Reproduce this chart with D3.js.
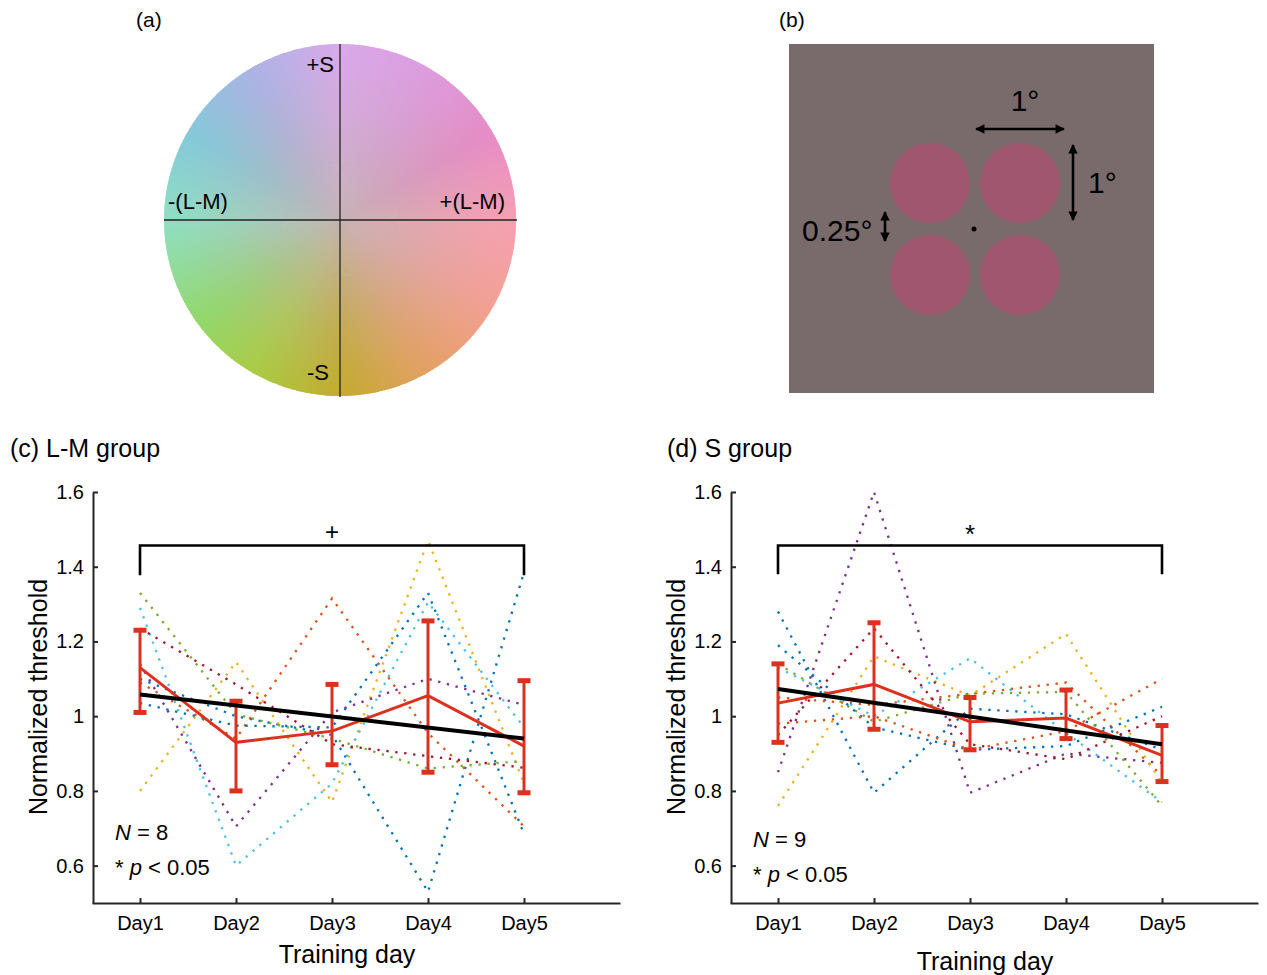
<!DOCTYPE html>
<html>
<head>
<meta charset="utf-8">
<script src="https://cdn.jsdelivr.net/npm/d3@7"></script>
<style>
  body { margin: 0; background: #fff; }
  svg { display: block; }
  text { font-family: "Liberation Sans", Arial, sans-serif; fill: #000; }
</style>
</head>
<body>
<svg id="fig" width="1267" height="975"></svg>
<script>
// ---------- data ----------
const days = ["Day1", "Day2", "Day3", "Day4", "Day5"];
const dayIndex = [1, 2, 3, 4, 5];
const yTicks = [0.6, 0.8, 1, 1.2, 1.4, 1.6];
const subjectColors = ["#0072BD", "#D95319", "#EDB120", "#7E2F8E", "#77AC30", "#4DBEEE", "#A2142F"];

// (c) L-M group: normalized thresholds per participant
const lmSubjects = [
  [1.10, 1.00, 0.95, 0.53, 1.385],
  [1.09, 0.94, 1.315, 0.955, 0.705],
  [0.80, 1.145, 0.77, 1.47, 0.82],
  [1.14, 0.705, 1.01, 1.10, 1.03],
  [1.33, 1.005, 0.94, 0.86, 0.88],
  [1.29, 0.60, 0.82, 1.305, 0.97],
  [1.235, 1.085, 0.925, 0.893, 0.862],
  [1.035, 0.975, 0.97, 1.33, 0.685]
];
const lmMean  = [1.13, 0.93, 0.96, 1.055, 0.92];
const lmUpper = [1.23, 1.04, 1.085, 1.255, 1.095];
const lmLower = [1.01, 0.80, 0.87, 0.85, 0.795];

// (d) S group: normalized thresholds per participant
const sSubjects = [
  [1.28, 0.795, 1.02, 1.005, 0.91],
  [1.05, 1.03, 1.06, 1.09, 0.84],
  [0.76, 1.16, 1.055, 1.22, 0.82],
  [0.85, 1.60, 0.795, 0.90, 0.875],
  [1.14, 0.985, 1.06, 1.065, 0.76],
  [1.13, 1.00, 1.155, 0.955, 0.77],
  [0.95, 1.235, 0.925, 0.885, 1.00],
  [1.19, 0.97, 0.91, 0.92, 1.025],
  [0.98, 1.00, 0.91, 0.96, 1.10]
];
const sMean  = [1.035, 1.085, 0.985, 0.995, 0.895];
const sUpper = [1.14, 1.25, 1.05, 1.07, 0.975];
const sLower = [0.93, 0.965, 0.91, 0.94, 0.825];

// hue around the colour circle (degrees clockwise from +S)
const wheelHues = [
  [0, "#d9a9ea"], [30, "#dd9cdf"], [60, "#e68cc6"], [90, "#f6a0b2"],
  [120, "#f3a093"], [150, "#e4a064"], [180, "#c3ab2e"], [210, "#a9cc46"],
  [235, "#92d96c"], [270, "#8fdfc4"], [300, "#84c9da"], [330, "#acb3e5"],
  [360, "#d9a9ea"]
];

const svg = d3.select("#fig");
const defs = svg.append("defs");
svg.append("rect").attr("width", 1267).attr("height", 975).attr("fill", "#fff");

// ---------- (a) colour space ----------
svg.append("text").attr("x", 136).attr("y", 27).attr("font-size", 21).text("(a)");
{
  const R = 176;
  const g = svg.append("g").attr("transform", "translate(340,220)");
  const hue = d3.scaleLinear()
    .domain(wheelHues.map(d => d[0]))
    .range(wheelHues.map(d => d[1]))
    .interpolate(d3.interpolateRgb);
  const n = 360;
  const arc = d3.arc().innerRadius(0).outerRadius(R);
  g.selectAll("path.wedge").data(d3.range(n)).join("path")
    .attr("class", "wedge")
    .attr("d", i => arc({ startAngle: i / n * 2 * Math.PI, endAngle: (i + 1.5) / n * 2 * Math.PI }))
    .attr("fill", i => hue((i + 0.5) / n * 360));

  const rg = defs.append("radialGradient").attr("id", "grey-centre");
  [[0, 0.92], [0.3, 0.6], [0.6, 0.28], [0.85, 0.08], [1, 0]].forEach(([o, a]) =>
    rg.append("stop").attr("offset", o).attr("stop-color", "#c4b1b2").attr("stop-opacity", a));
  g.append("circle").attr("r", R).attr("fill", "url(#grey-centre)");

  g.append("line").attr("x1", 0).attr("x2", 0).attr("y1", -R).attr("y2", R + 1)
    .attr("stroke", "#222").attr("stroke-width", 1.3);
  g.append("line").attr("x1", -R).attr("x2", R + 1).attr("y1", 0).attr("y2", 0)
    .attr("stroke", "#222").attr("stroke-width", 1.3);

  const lab = (x, y, t, anchor) => g.append("text").attr("x", x).attr("y", y)
    .attr("font-size", 22).attr("text-anchor", anchor).attr("fill", "#222").text(t);
  lab(-6, -148, "+S", "end");
  lab(-11, 160, "-S", "end");
  lab(-172, -11, "-(L-M)", "start");
  lab(165, -11, "+(L-M)", "end");
}

// ---------- (b) stimulus layout ----------
svg.append("text").attr("x", 779).attr("y", 27).attr("font-size", 21).text("(b)");
{
  const g = svg.append("g");
  g.append("rect").attr("x", 789).attr("y", 44).attr("width", 365).attr("height", 349).attr("fill", "#796b6b");
  const soft = defs.append("filter").attr("id", "soft");
  soft.append("feGaussianBlur").attr("stdDeviation", 0.9);
  const discs = [[930, 183], [1020, 183], [930, 275], [1020, 275]];
  g.selectAll("circle.disc").data(discs).join("circle")
    .attr("cx", d => d[0]).attr("cy", d => d[1]).attr("r", 40)
    .attr("fill", "#a1566f").attr("filter", "url(#soft)");
  g.append("circle").attr("cx", 974).attr("cy", 229).attr("r", 2.5).attr("fill", "#000");

  defs.append("marker").attr("id", "head").attr("viewBox", "0 0 10 10")
    .attr("refX", 9).attr("refY", 5).attr("markerWidth", 4.2).attr("markerHeight", 3.6)
    .attr("orient", "auto-start-reverse")
    .append("path").attr("d", "M0,0L10,5L0,10z").attr("fill", "#000");
  const arrow = (x1, y1, x2, y2) => g.append("line")
    .attr("x1", x1).attr("y1", y1).attr("x2", x2).attr("y2", y2)
    .attr("stroke", "#000").attr("stroke-width", 2.6)
    .attr("marker-start", "url(#head)").attr("marker-end", "url(#head)");
  arrow(976, 129, 1064, 129);
  arrow(1073, 145, 1073, 220);
  arrow(885, 212, 885, 241);

  const lab = (x, y, t, anchor) => g.append("text").attr("x", x).attr("y", y)
    .attr("font-family", "Lato, 'Open Sans', sans-serif").attr("font-size", 30)
    .attr("text-anchor", anchor).text(t);
  lab(1025, 111, "1°", "middle");
  lab(1088, 193, "1°", "start");
  lab(802, 241, "0.25°", "start");
}

// ---------- (c)/(d) training curves ----------
function drawPanel(cfg) {
  const g = svg.append("g");
  const x = d3.scaleLinear().domain([0.5, 6]).range([cfg.left - 1, cfg.left + 527]);
  const y = d3.scaleLinear().domain([0.5, 1.6]).range([903, 492]);

  g.append("text").attr("x", cfg.titleX).attr("y", 457).attr("font-size", 25).text(cfg.title);

  // individual participants
  const line = d3.line().x((d, i) => x(dayIndex[i])).y(d => y(d));
  g.selectAll("path.subj").data(cfg.subjects).join("path")
    .attr("class", "subj").attr("d", line).attr("fill", "none")
    .attr("stroke", (d, i) => subjectColors[i % subjectColors.length])
    .attr("stroke-width", 2.3).attr("stroke-dasharray", "2.3 6.7");

  // group mean with error bars
  const red = "#db3220";
  g.append("path").attr("d", line(cfg.mean)).attr("fill", "none")
    .attr("stroke", red).attr("stroke-width", 3);
  const eb = g.selectAll("g.eb").data(dayIndex).join("g");
  eb.append("line")
    .attr("x1", d => x(d)).attr("x2", d => x(d))
    .attr("y1", (d, i) => y(cfg.upper[i])).attr("y2", (d, i) => y(cfg.lower[i]))
    .attr("stroke", red).attr("stroke-width", 3);
  ["upper", "lower"].forEach(k => {
    eb.append("rect")
      .attr("x", d => x(d) - 6.5).attr("width", 13)
      .attr("y", (d, i) => y(cfg[k][i]) - 2.5).attr("height", 5)
      .attr("fill", red);
  });

  // least-squares trend of the group mean
  const mx = d3.mean(dayIndex), my = d3.mean(cfg.mean);
  const slope = d3.sum(dayIndex, (d, i) => (d - mx) * (cfg.mean[i] - my)) /
                d3.sum(dayIndex, d => (d - mx) ** 2);
  const fit = d => my + slope * (d - mx);
  g.append("line")
    .attr("x1", x(1)).attr("y1", y(fit(1))).attr("x2", x(5)).attr("y2", y(fit(5)))
    .attr("stroke", "#000").attr("stroke-width", 4);

  // Day1 vs Day5 comparison bracket
  g.append("path")
    .attr("d", `M${x(1)},${y(cfg.bracketLeg)}V${y(cfg.bracketTop)}H${x(5)}V${y(cfg.bracketLeg)}`)
    .attr("fill", "none").attr("stroke", "#000").attr("stroke-width", 2.6);
  g.append("text").attr("x", x(3)).attr("y", y(cfg.bracketTop) - cfg.markLift)
    .attr("text-anchor", "middle").attr("font-size", cfg.markSize)
    .attr("font-family", cfg.markFont).text(cfg.mark);

  // axes
  const ya = g.append("g").attr("transform", `translate(${cfg.left},0)`)
    .call(d3.axisLeft(y).tickValues(yTicks).tickSize(-5).tickSizeOuter(0).tickPadding(9)
      .tickFormat(d => d === 1 ? "1" : d.toFixed(1)));
  const xa = g.append("g").attr("transform", "translate(0,903)")
    .call(d3.axisBottom(x).tickValues(dayIndex).tickSize(-5).tickSizeOuter(0).tickPadding(13)
      .tickFormat(d => days[d - 1]));
  [ya, xa].forEach(a => {
    a.select(".domain").attr("stroke", "#262626").attr("stroke-width", 2);
    a.selectAll(".tick line").attr("stroke", "#262626").attr("stroke-width", 2);
    a.selectAll("text").attr("font-size", 20).attr("fill", "#000")
      .attr("font-family", "'Liberation Sans', Arial, sans-serif");
  });

  g.append("text").attr("transform", `translate(${cfg.left - 55},697) rotate(-90)`)
    .attr("text-anchor", "middle").attr("dominant-baseline", "central")
    .attr("font-size", 25).text("Normalized threshold");
  g.append("text").attr("x", cfg.xLabelX).attr("y", cfg.xLabelY)
    .attr("text-anchor", "middle").attr("font-size", 25).text("Training day");

  // sample size and significance note
  const n = g.append("text").attr("x", cfg.left + 22).attr("y", cfg.noteY).attr("font-size", 22);
  n.append("tspan").attr("font-style", "italic").text("N");
  n.append("tspan").text(` = ${cfg.subjects.length}`);
  const p = g.append("text").attr("x", cfg.left + 22).attr("y", cfg.noteY + 35).attr("font-size", 22);
  p.append("tspan").text("* ");
  p.append("tspan").attr("font-style", "italic").text("p");
  p.append("tspan").text(" < 0.05");
}

drawPanel({
  title: "(c) L-M group", titleX: 10, left: 93,
  subjects: lmSubjects, mean: lmMean, upper: lmUpper, lower: lmLower,
  bracketTop: 1.457, bracketLeg: 1.377, mark: "+", markSize: 24, markLift: 5,
  markFont: "'Liberation Sans', Arial, sans-serif",
  xLabelX: 347, xLabelY: 963, noteY: 840
});
drawPanel({
  title: "(d) S group", titleX: 667, left: 731,
  subjects: sSubjects, mean: sMean, upper: sUpper, lower: sLower,
  bracketTop: 1.457, bracketLeg: 1.38, mark: "*", markSize: 26, markLift: 2,
  markFont: "'Liberation Serif', 'DejaVu Serif', serif",
  xLabelX: 985, xLabelY: 970, noteY: 847
});
</script>
</body>
</html>
